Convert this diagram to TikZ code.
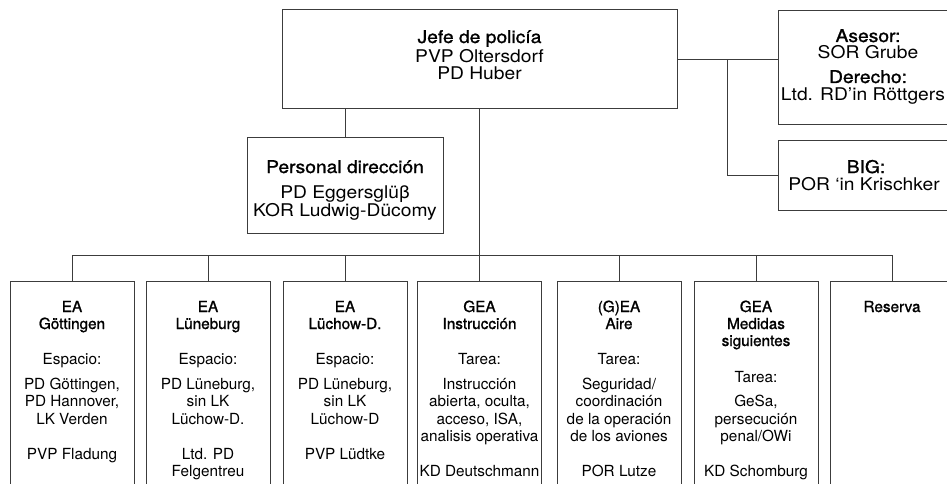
\documentclass[tikz,border=0pt]{standalone}
\usepackage{fontspec}
\setmainfont{TeX Gyre Heros}
\newfontfamily\topfam[FakeStretch=1.1]{TeX Gyre Heros}
\newfontfamily\topmed[FakeStretch=1.1,FakeBold=1.2]{TeX Gyre Heros}
\newfontfamily\botmed[FakeBold=1.2]{TeX Gyre Heros}
\definecolor{linec}{HTML}{3C3C3C}
\begin{document}
\begin{tikzpicture}[x=1pt,y=-1pt,
  box/.style={draw=linec, line width=1pt, inner sep=0pt, fill=white},
  conn/.style={draw=linec, line width=1pt},
  tt/.style={font=\topfam\fontsize{17.5}{20}\selectfont, anchor=base, inner sep=0pt},
  th/.style={font=\topmed\fontsize{17.5}{20}\selectfont, anchor=base, inner sep=0pt},
  bt/.style={font=\fontsize{15.3}{17}\selectfont, anchor=base, inner sep=0pt},
  bh/.style={font=\botmed\fontsize{15.3}{17}\selectfont, anchor=base, inner sep=0pt},
  lowbox/.style={box, minimum width=124pt, minimum height=240pt, anchor=north}
]
\useasboundingbox (0,0) rectangle (947,484);
\clip (0,0) rectangle (947,484);
\fill[white] (0,0) rectangle (947,484);

% boxes
\node[box, minimum width=395pt, minimum height=99pt] (jefe) at (479.5,59.5) {};
\node[box, minimum width=200pt, minimum height=114pt, anchor=north west] (asesor) at (778,10) {};
\node[box, minimum width=200pt, minimum height=70pt, anchor=north west] (big) at (778,140) {};
\node[box, minimum width=196pt, minimum height=96pt] (pers) at (345,185) {};
\node[lowbox] (b1) at (72,281) {};
\node[lowbox] (b2) at (208,281) {};
\node[lowbox] (b3) at (345,281) {};
\node[lowbox] (b4) at (479.5,281) {};
\node[lowbox] (b5) at (619,281) {};
\node[lowbox] (b6) at (756,281) {};
\node[lowbox] (b7) at (892,281) {};

% connectors
\coordinate (bus) at (0,255);
\coordinate (br) at (727,59.5);
\draw[conn] (jefe.east) -- (jefe.east -| asesor.west);
\draw[conn] (br) |- (big.west);
\draw[conn] (jefe.south -| pers.north) -- (pers.north);
\draw[conn] (jefe.south) -- (b4.north);
\draw[conn] (b1.north |- bus) -- (b7.north |- bus);
\foreach \b in {b1,b2,b3,b5,b6,b7} { \draw[conn] (\b.north |- bus) -- (\b.north); }

% top texts
\node[th] (t1) at (479.5,43) {Jefe de policía};
\node[tt] (t2) at (479.5,63) {PVP Oltersdorf};
\node[tt] (t3) at (479.5,80) {PD Huber};

\node[th] (a1) at (868,42) {Asesor:};
\node[tt] (a2) at (868,59) {SOR Grube};
\node[th] (a3) at (868,83) {Derecho:};
\node[tt] (a4) at (863,101) {Ltd. RD’in Röttgers};

\node[th] (g1) at (866,173) {BIG:};
\node[tt] (g2) at (864,190) {POR ‘in Krischker};

\node[th] (p1) at (345,173) {Personal dirección};
\node[tt] (p2) at (345,198) {PD Eggersglüβ};
\node[tt] (p3) at (345,216) {KOR Ludwig-Dücomy};

% box 1
\node[bh] (c11) at (72,312) {EA};
\node[bh] (c12) at (72,329) {Göttingen};
\node[bt] (c13) at (72,364) {Espacio:};
\node[bt] (c14) at (72,389) {PD Göttingen,};
\node[bt] (c15) at (72,406.5) {PD Hannover,};
\node[bt] (c16) at (72,424) {LK Verden};
\node[bt] (c17) at (72,459) {PVP Fladung};
% box 2
\node[bh] (c21) at (208,312) {EA};
\node[bh] (c22) at (208,329) {Lüneburg};
\node[bt] (c23) at (208,364) {Espacio:};
\node[bt] (c24) at (208,389) {PD Lüneburg,};
\node[bt] (c25) at (208,406.5) {sin LK};
\node[bt] (c26) at (208,424) {Lüchow-D.};
\node[bt] (c27) at (208,459) {Ltd. PD};
\node[bt] (c28) at (208,476) {Felgentreu};
% box 3
\node[bh] (c31) at (345,312) {EA};
\node[bh] (c32) at (345,329) {Lüchow-D.};
\node[bt] (c33) at (345,364) {Espacio:};
\node[bt] (c34) at (345,389) {PD Lüneburg,};
\node[bt] (c35) at (345,406.5) {sin LK};
\node[bt] (c36) at (345,424) {Lüchow-D};
\node[bt] (c37) at (345,459) {PVP Lüdtke};
% box 4
\node[bh] (c41) at (479.5,312) {GEA};
\node[bh] (c42) at (479.5,329) {Instrucción};
\node[bt] (c43) at (479.5,364) {Tarea:};
\node[bt] (c44) at (479.5,389) {Instrucción};
\node[bt] (c45) at (479.5,406.5) {abierta, oculta,};
\node[bt] (c46) at (479.5,424) {acceso, ISA,};
\node[bt] (c47) at (479.5,441.5) {analisis operativa};
\node[bt] (c48) at (479.5,476) {KD Deutschmann};
% box 5
\node[bh] (c51) at (619,312) {(G)EA};
\node[bh] (c52) at (619,329) {Aire};
\node[bt] (c53) at (619,364) {Tarea:};
\node[bt] (c54) at (619,389) {Seguridad/};
\node[bt] (c55) at (619,406.5) {coordinación};
\node[bt] (c56) at (619,424) {de la operación};
\node[bt] (c57) at (619,441.5) {de los aviones};
\node[bt] (c58) at (619,476) {POR Lutze};
% box 6
\node[bh] (c61) at (756,312) {GEA};
\node[bh] (c62) at (756,329) {Medidas};
\node[bh] (c63) at (756,346) {siguientes};
\node[bt] (c64) at (756,382) {Tarea:};
\node[bt] (c65) at (756,406.5) {GeSa,};
\node[bt] (c66) at (756,424) {persecución};
\node[bt] (c67) at (756,441.5) {penal/OWi};
\node[bt] (c68) at (756,476) {KD Schomburg};
% box 7
\node[bh] (c71) at (892,312) {Reserva};
\end{tikzpicture}
\end{document}
